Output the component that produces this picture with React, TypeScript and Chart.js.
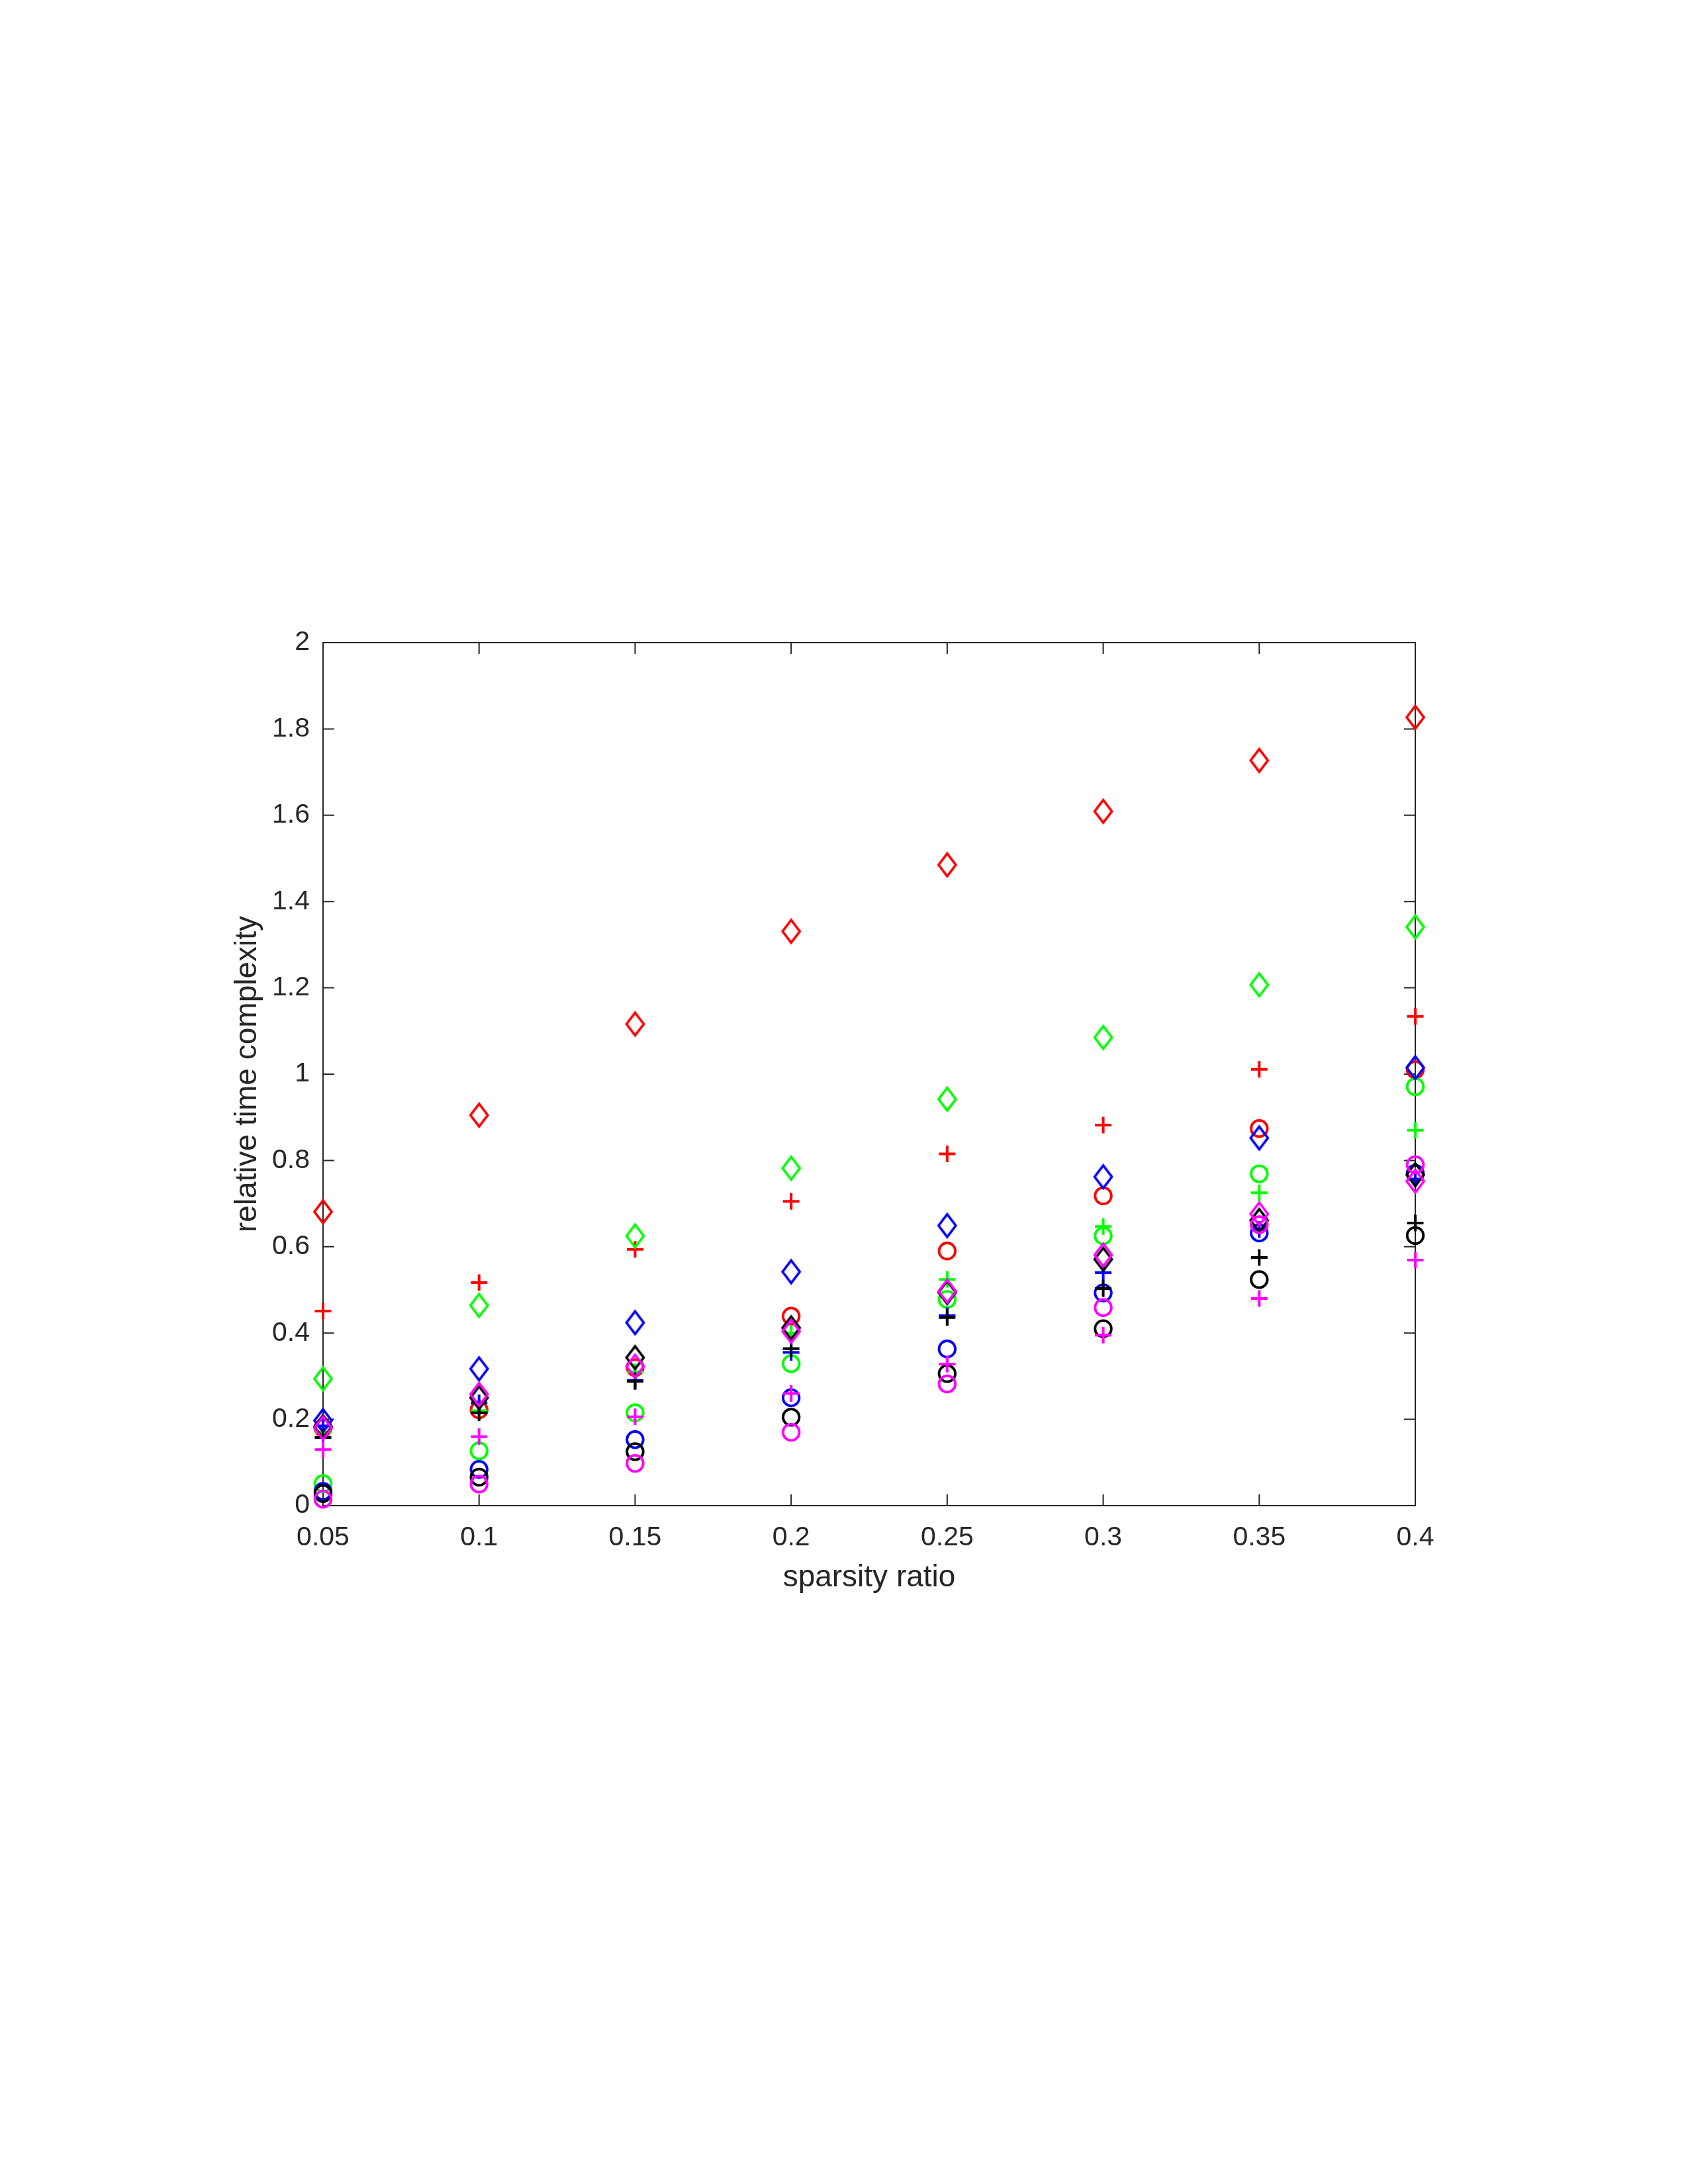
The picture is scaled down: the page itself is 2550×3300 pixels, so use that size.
import React, { useEffect, useRef } from 'react';
import { Chart, registerables } from 'chart.js';

Chart.register(...registerables);

// ---------- data ----------
const sparsityRatios = [0.05, 0.1, 0.15, 0.2, 0.25, 0.3, 0.35, 0.4];

const xTickValues = [0.05, 0.1, 0.15, 0.2, 0.25, 0.3, 0.35, 0.4];
const xTickLabels = ['0.05', '0.1', '0.15', '0.2', '0.25', '0.3', '0.35', '0.4'];
const yTickValues = [0, 0.2, 0.4, 0.6, 0.8, 1, 1.2, 1.4, 1.6, 1.8, 2];
const yTickLabels = ['0', '0.2', '0.4', '0.6', '0.8', '1', '1.2', '1.4', '1.6', '1.8', '2'];

const xAxisTitle = 'sparsity ratio';
const yAxisTitle = 'relative time complexity';

const redDiamond = [0.681, 0.905, 1.116, 1.331, 1.485, 1.609, 1.727, 1.827];
const redPlus = [0.451, 0.517, 0.594, 0.705, 0.815, 0.882, 1.011, 1.134];
const redCircle = [0.18, 0.222, 0.32, 0.439, 0.59, 0.718, 0.874, 1.01];

const greenDiamond = [0.294, 0.464, 0.625, 0.782, 0.942, 1.085, 1.207, 1.341];
const greenPlus = [0.17, 0.22, 0.31, 0.4, 0.524, 0.647, 0.725, 0.87];
const greenCircle = [0.051, 0.127, 0.215, 0.329, 0.478, 0.625, 0.769, 0.971];

const blueDiamond = [0.197, 0.317, 0.424, 0.542, 0.649, 0.762, 0.852, 1.015];
const bluePlus = [0.185, 0.238, 0.29, 0.355, 0.44, 0.54, 0.64, 0.757];
const blueCircle = [0.033, 0.084, 0.153, 0.25, 0.363, 0.493, 0.632, 0.77];

const blackDiamond = [0.183, 0.25, 0.343, 0.412, 0.494, 0.571, 0.661, 0.767];
const blackPlus = [0.158, 0.215, 0.288, 0.364, 0.436, 0.503, 0.575, 0.655];
const blackCircle = [0.028, 0.066, 0.125, 0.205, 0.306, 0.41, 0.524, 0.626];

const magentaDiamond = [0.18, 0.258, 0.323, 0.404, 0.497, 0.581, 0.676, 0.752];
const magentaPlus = [0.13, 0.16, 0.206, 0.26, 0.328, 0.395, 0.48, 0.569];
const magentaCircle = [0.015, 0.05, 0.098, 0.17, 0.282, 0.459, 0.651, 0.79];

const RED = '#FF0000';
const GREEN = '#00FF00';
const BLUE = '#0000FF';
const BLACK = '#000000';
const MAGENTA = '#FF00FF';

type Marker = 'diamond' | 'plus' | 'circle';
const seriesList: { color: string; marker: Marker; values: number[] }[] = [
  { color: RED, marker: 'diamond', values: redDiamond },
  { color: RED, marker: 'plus', values: redPlus },
  { color: RED, marker: 'circle', values: redCircle },
  { color: GREEN, marker: 'diamond', values: greenDiamond },
  { color: GREEN, marker: 'plus', values: greenPlus },
  { color: GREEN, marker: 'circle', values: greenCircle },
  { color: BLUE, marker: 'diamond', values: blueDiamond },
  { color: BLUE, marker: 'plus', values: bluePlus },
  { color: BLUE, marker: 'circle', values: blueCircle },
  { color: BLACK, marker: 'diamond', values: blackDiamond },
  { color: BLACK, marker: 'plus', values: blackPlus },
  { color: BLACK, marker: 'circle', values: blackCircle },
  { color: MAGENTA, marker: 'diamond', values: magentaDiamond },
  { color: MAGENTA, marker: 'plus', values: magentaPlus },
  { color: MAGENTA, marker: 'circle', values: magentaCircle },
];

// ---------- styling ----------
const FONT = "'Liberation Sans', Arial, Helvetica, sans-serif";
const AXIS_COLOR = '#262626';

function makeDiamond(color: string): HTMLCanvasElement {
  const c = document.createElement('canvas');
  c.width = 36;
  c.height = 46;
  const ctx = c.getContext('2d')!;
  const cx = 18;
  const cy = 23;
  ctx.strokeStyle = color;
  ctx.lineWidth = 3.7;
  ctx.lineJoin = 'miter';
  ctx.beginPath();
  ctx.moveTo(cx, cy - 17.2);
  ctx.lineTo(cx + 13, cy);
  ctx.lineTo(cx, cy + 17.2);
  ctx.lineTo(cx - 13, cy);
  ctx.closePath();
  ctx.stroke();
  return c;
}

const boxPlugin = {
  id: 'matlabBox',
  beforeDatasetsDraw(chart: any) {
    const { ctx, chartArea, scales } = chart;
    const { left, right, top, bottom } = chartArea;
    const tl = 17;
    ctx.save();
    ctx.strokeStyle = AXIS_COLOR;
    ctx.lineWidth = 2;
    ctx.beginPath();
    ctx.rect(left, top, right - left, bottom - top);
    scales.x.ticks.forEach((t: any) => {
      const px = scales.x.getPixelForValue(t.value);
      ctx.moveTo(px, bottom);
      ctx.lineTo(px, bottom - tl);
      ctx.moveTo(px, top);
      ctx.lineTo(px, top + tl);
    });
    scales.y.ticks.forEach((t: any) => {
      const py = scales.y.getPixelForValue(t.value);
      ctx.moveTo(left, py);
      ctx.lineTo(left + tl, py);
      ctx.moveTo(right, py);
      ctx.lineTo(right - tl, py);
    });
    ctx.stroke();
    ctx.restore();
  },
};

export default function App() {
  const canvasRef = useRef<HTMLCanvasElement | null>(null);

  useEffect(() => {
    if (!canvasRef.current) return;
    const diamonds: Record<string, HTMLCanvasElement> = {};
    const n = seriesList.length;
    const datasets = seriesList.map((s, idx) => {
      let style: any = 'circle';
      let radius = 12.3;
      let bw = 3.8;
      if (s.marker === 'diamond') {
        if (!diamonds[s.color]) diamonds[s.color] = makeDiamond(s.color);
        style = diamonds[s.color];
        radius = 17;
      } else if (s.marker === 'plus') {
        style = 'cross';
        radius = 12.5;
        bw = 4;
      }
      return {
        label: `${s.color} ${s.marker}`,
        data: sparsityRatios.map((x, i) => ({ x, y: s.values[i] })),
        showLine: false,
        pointStyle: style,
        pointRadius: radius,
        pointHoverRadius: radius,
        pointBorderWidth: bw,
        borderColor: s.color,
        backgroundColor: 'rgba(0,0,0,0)',
        pointBackgroundColor: 'rgba(0,0,0,0)',
        pointBorderColor: s.color,
        clip: false as any,
        order: n - idx,
      };
    });

    const chart = new Chart(canvasRef.current, {
      type: 'scatter',
      data: { datasets },
      options: {
        animation: false,
        responsive: false,
        devicePixelRatio: 1,
        events: [],
        layout: { padding: { left: 340, right: 412, top: 971, bottom: 885 } },
        plugins: { legend: { display: false }, tooltip: { enabled: false } },
        scales: {
          x: {
            type: 'linear',
            position: 'bottom',
            min: 0.05,
            max: 0.4,
            afterBuildTicks: (scale: any) => {
              scale.ticks = xTickValues.map((v) => ({ value: v }));
            },
            afterFit: (scale: any) => {
              scale.height = 140;
            },
            ticks: {
              autoSkip: false,
              maxRotation: 0,
              minRotation: 0,
              padding: 24,
              color: AXIS_COLOR,
              font: { family: FONT, size: 41 },
              callback: (_v: any, i: number) => xTickLabels[i],
            },
            grid: { display: false, drawTicks: false },
            border: { display: false },
            title: {
              display: true,
              text: xAxisTitle,
              color: AXIS_COLOR,
              font: { family: FONT, size: 46 },
              padding: { top: 0, bottom: 3 },
            },
          },
          y: {
            type: 'linear',
            position: 'left',
            min: 0,
            max: 2,
            afterBuildTicks: (scale: any) => {
              scale.ticks = yTickValues.map((v) => ({ value: v }));
            },
            afterFit: (scale: any) => {
              scale.width = 148;
            },
            ticks: {
              autoSkip: false,
              padding: 20,
              color: AXIS_COLOR,
              font: { family: FONT, size: 41 },
              callback: (_v: any, i: number) => yTickLabels[i],
            },
            grid: { display: false, drawTicks: false },
            border: { display: false },
            title: {
              display: true,
              text: yAxisTitle,
              color: AXIS_COLOR,
              font: { family: FONT, size: 46 },
              padding: { top: 7, bottom: 0 },
            },
          },
        },
      },
      plugins: [boxPlugin],
    } as any);

    return () => {
      chart.destroy();
    };
  }, []);

  return (
    <div style={{ position: 'absolute', left: 0, top: 0, width: 2550, height: 3300, background: '#ffffff' }}>
      <canvas ref={canvasRef} width={2550} height={3300} style={{ width: 2550, height: 3300, display: 'block' }} />
    </div>
  );
}
